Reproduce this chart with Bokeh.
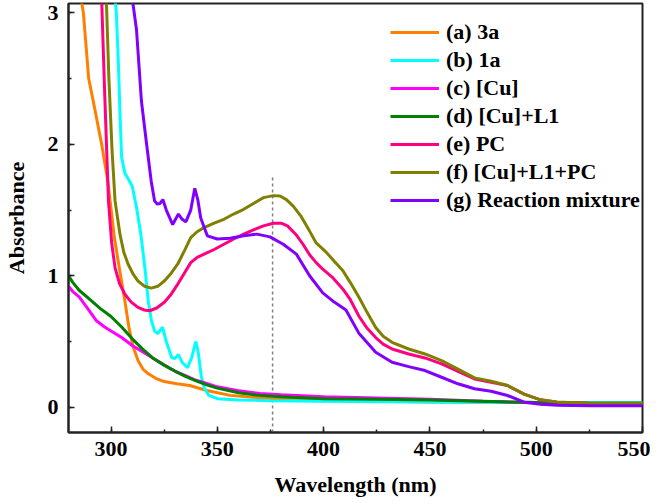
from bokeh.plotting import figure
from bokeh.models import Range1d, SingleIntervalTicker, Legend, LegendItem
from bokeh.embed import file_html
from bokeh.resources import INLINE

# ---------------- data ----------------
a_x = [285.5, 287, 289.5, 292, 295.6, 298.5, 301.5, 304, 306.5, 308.5, 310.4, 312.7, 315, 317.4, 321, 325, 331, 337, 345, 356, 375, 400, 450, 500, 550]
a_y = [3.15, 3.0, 2.5, 2.3, 2.0, 1.72, 1.3, 1.05, 0.81, 0.6, 0.46, 0.355, 0.29, 0.256, 0.22, 0.195, 0.178, 0.165, 0.127, 0.09, 0.066, 0.05, 0.04, 0.035, 0.03]

b_x = [301.5, 302.5, 303.5, 304.3, 305, 306.5, 308, 310, 312, 314, 316, 317.5, 319, 320.5, 322, 324.2, 326, 328.5, 330, 331.7, 333.5, 336, 338, 339.9, 341, 342.5, 344, 346, 350, 360, 375, 400, 450, 500, 550]
b_y = [3.2, 3.0, 2.6, 2.2, 1.9, 1.78, 1.74, 1.68, 1.52, 1.32, 1.05, 0.81, 0.66, 0.58, 0.56, 0.61, 0.5, 0.38, 0.37, 0.40, 0.34, 0.30, 0.38, 0.5, 0.42, 0.23, 0.14, 0.09, 0.065, 0.055, 0.05, 0.045, 0.04, 0.035, 0.035]

c_x = [280, 282, 285, 290, 293, 297, 300, 305, 310, 315, 320, 325, 330, 335, 340, 345, 350, 360, 370, 380, 400, 425, 450, 475, 500, 525, 550]
c_y = [0.92, 0.88, 0.84, 0.73, 0.66, 0.61, 0.58, 0.53, 0.47, 0.42, 0.37, 0.32, 0.275, 0.24, 0.205, 0.18, 0.155, 0.125, 0.105, 0.095, 0.08, 0.07, 0.06, 0.045, 0.035, 0.025, 0.02]

d_x = [280, 282, 285, 290, 295, 300, 305, 310, 315, 320, 325, 330, 335, 340, 345, 350, 360, 370, 380, 400, 425, 450, 475, 500, 525, 550]
d_y = [1.0, 0.95, 0.89, 0.82, 0.75, 0.69, 0.61, 0.52, 0.44, 0.37, 0.32, 0.275, 0.235, 0.2, 0.17, 0.145, 0.11, 0.09, 0.08, 0.065, 0.06, 0.055, 0.045, 0.035, 0.03, 0.03]

e_x = [295.6, 297, 298.8, 300.3, 301.9, 304, 306.5, 309.5, 312.7, 315.5, 318.2, 321.5, 325.2, 328.3, 331.4, 334.5, 337.5, 340.5, 343.8, 348.5, 353.1, 357.7, 362.4, 367, 371.7, 376.4, 380, 383, 387.2, 390.3, 393.4, 396.5, 399.6, 404, 409, 412.5, 416.7, 420.5, 424.5, 428, 432.2, 440, 447.7, 455.5, 463.2, 471, 478.8, 486.5, 494.3, 502, 509.8, 525, 550]
e_y = [3.1, 2.4, 1.57, 1.25, 1.06, 0.94, 0.86, 0.8, 0.76, 0.74, 0.734, 0.755, 0.80, 0.86, 0.937, 1.02, 1.10, 1.14, 1.165, 1.2, 1.24, 1.28, 1.317, 1.35, 1.38, 1.40, 1.40, 1.38, 1.31, 1.24, 1.16, 1.1, 1.05, 0.99, 0.9, 0.82, 0.69, 0.6, 0.53, 0.48, 0.443, 0.405, 0.375, 0.33, 0.273, 0.215, 0.19, 0.165, 0.10, 0.056, 0.038, 0.03, 0.028]

f_x = [297.8, 299, 300.5, 301.9, 304.2, 306, 308, 310.5, 312.7, 315.8, 318.9, 322, 325.2, 328.3, 331.4, 334.5, 337.5, 340.5, 343.8, 348.5, 353.1, 357.7, 362.4, 367, 371.7, 376.4, 379.5, 382.5, 385.7, 389.5, 393.4, 396.5, 401.2, 405, 409, 412.5, 416.7, 420.5, 424.5, 428, 432.2, 440, 447.7, 455.5, 463.2, 471, 478.8, 486.5, 494.3, 502, 509.8, 525, 550]
f_y = [3.1, 2.5, 1.95, 1.57, 1.317, 1.18, 1.09, 1.01, 0.96, 0.92, 0.906, 0.92, 0.962, 1.02, 1.09, 1.19, 1.29, 1.335, 1.367, 1.40, 1.43, 1.47, 1.506, 1.55, 1.595, 1.61, 1.607, 1.58, 1.53, 1.45, 1.34, 1.25, 1.18, 1.11, 1.04, 0.95, 0.835, 0.72, 0.607, 0.54, 0.494, 0.443, 0.405, 0.355, 0.29, 0.223, 0.197, 0.165, 0.10, 0.056, 0.04, 0.03, 0.03]

g_x = [309, 310.5, 312, 314.3, 316.6, 318.9, 320.5, 321.8, 323, 324.4, 326, 329, 331.7, 333.5, 335.2, 337.5, 339.4, 340.8, 342.2, 345.3, 350, 356, 362.4, 368.6, 374.8, 381, 387.2, 393.4, 399.6, 405, 410.5, 416.7, 424.5, 432.2, 440, 447.7, 455.5, 463.2, 471, 478.8, 486.5, 494.3, 502, 510, 525, 550]
g_y = [3.2, 3.05, 2.87, 2.33, 2.02, 1.72, 1.57, 1.545, 1.55, 1.58, 1.5, 1.39, 1.47, 1.43, 1.41, 1.5, 1.666, 1.58, 1.44, 1.304, 1.28, 1.286, 1.304, 1.317, 1.296, 1.24, 1.165, 1.0, 0.87, 0.8, 0.74, 0.56, 0.418, 0.342, 0.309, 0.279, 0.228, 0.178, 0.14, 0.121, 0.089, 0.038, 0.022, 0.015, 0.012, 0.012]

series_labels = ["(a) 3a", "(b) 1a", "(c) [Cu]", "(d) [Cu]+L1", "(e) PC", "(f) [Cu]+L1+PC", "(g) Reaction mixture"]
series_colors = ["#FF7F00", "#00FFFF", "#FF00FF", "#007F00", "#FF0080", "#808000", "#8000FF"]
series_x = [a_x, b_x, c_x, d_x, e_x, f_x, g_x]
series_y = [a_y, b_y, c_y, d_y, e_y, f_y, g_y]

marker_x = [376]
marker_top = [1.75]

x_min, x_max = 280, 550
y_min, y_max = -0.1925, 3.072

FONT = "Liberation Serif"

p = figure(width=650, height=503, output_backend="svg", toolbar_location=None,
           x_range=Range1d(x_min, x_max), y_range=Range1d(y_min, y_max),
           min_border_left=62, min_border_right=8, min_border_top=3, min_border_bottom=71)
p.grid.visible = False
p.background_fill_color = "white"
p.border_fill_color = "white"
p.outline_line_color = "#222222"
p.outline_line_width = 2

# dashed marker line
p.segment(x0=marker_x, x1=marker_x, y0=[y_min], y1=marker_top,
          line_color="#808080", line_width=1.5, line_dash="3 3")

items = []
for lab, col, xs, ys in zip(series_labels, series_colors, series_x, series_y):
    r = p.line(xs, ys, line_color=col, line_width=3)
    items.append(LegendItem(label=lab, renderers=[r]))

legend = Legend(items=items, location=(322, 219))
legend.border_line_color = None
legend.background_fill_alpha = 0
legend.padding = 0
legend.margin = 0
legend.spacing = 2
legend.glyph_width = 49
legend.glyph_height = 20
legend.label_height = 20
legend.label_standoff = 7
legend.label_text_font = FONT
legend.label_text_font_style = "bold"
legend.label_text_font_size = "22px"
legend.label_text_color = "black"
p.add_layout(legend, "center")

p.xaxis.ticker = SingleIntervalTicker(interval=50, num_minor_ticks=2)
p.yaxis.ticker = SingleIntervalTicker(interval=1, num_minor_ticks=2)

for ax in (p.xaxis[0], p.yaxis[0]):
    ax.axis_line_color = "#222222"
    ax.axis_line_width = 2
    ax.major_tick_in = 6
    ax.major_tick_out = 0
    ax.minor_tick_in = 3
    ax.minor_tick_out = 0
    ax.major_tick_line_color = "#222222"
    ax.minor_tick_line_color = "#222222"
    ax.major_tick_line_width = 1.5
    ax.minor_tick_line_width = 1.5
    ax.major_label_text_font = FONT
    ax.major_label_text_font_style = "bold"
    ax.major_label_text_font_size = "22px"
    ax.major_label_text_color = "black"
    ax.axis_label_text_font = FONT
    ax.axis_label_text_font_style = "bold"
    ax.axis_label_text_font_size = "22px"
    ax.axis_label_text_color = "black"

p.xaxis.axis_label = "Wavelength (nm)"
p.yaxis.axis_label = "Absorbance"
p.xaxis.major_label_standoff = 9
p.xaxis.axis_label_standoff = 13
p.yaxis.major_label_standoff = 10
p.yaxis.axis_label_standoff = 16

open("out.html", "w").write(file_html(p, INLINE))
